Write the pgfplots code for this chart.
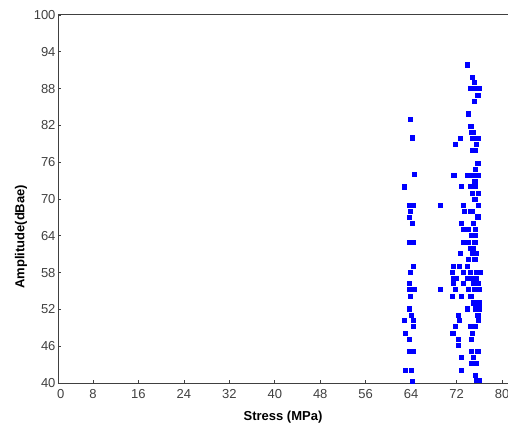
\documentclass[border=0pt]{standalone}
\usepackage{fontspec}
\setmainfont{Liberation Sans}
\usepackage{pgfplots}
\pgfplotsset{compat=1.18}
\begin{document}
\begin{tikzpicture}
\useasboundingbox (-58pt,-46pt) rectangle (450pt,383pt);
\begin{axis}[
  scale only axis,
  width=450pt, height=369pt,
  at={(0pt,0pt)}, anchor=south west,
  xmin=1.84, xmax=81.05,
  ymin=40, ymax=100.16,
  xtick={8,16,24,32,40,48,56,64,72,80},
  extra x ticks={2.31}, extra x tick labels={0},
  extra x tick style={major tick length=0pt},
  ytick={40,46,52,58,64,70,76,82,88,94,100},
  axis x line*=box, axis y line*=left,
  xtick pos=bottom, ytick pos=left,
  tick align=inside,
  major tick length=3pt,
  axis line style={draw=black!75, line width=0.8pt},
  tick style={draw=black!75, line width=0.6pt},
  /pgf/number format/assume math mode=true,
  tick label style={font=\fontsize{13}{15}\selectfont, text=black!75},
  xticklabel style={yshift=-3pt},
  yticklabel style={xshift=1pt},
  xlabel={Stress (MPa)},
  ylabel={Amplitude(dBae)},
  label style={font=\fontsize{13}{15}\selectfont\bfseries},
  xlabel style={at={(axis description cs:0.5,0)}, anchor=center, yshift=-34pt},
  ylabel style={at={(axis description cs:-0.082,0.396)}, anchor=center, rotate=0},
  clip=false,
]
\addplot[only marks, mark=square*, mark size=2.1pt, color=blue, mark options={draw=blue, fill=blue}] table {
x y
63.8 83
64.2 80
64.5 74
62.75 72
63.7 69
64.4 69
63.9 68
63.6 67
64.2 66
63.6 63
64.3 63
64.4 59.1
63.8 58.1
63.6 56.3
63.7 55.3
64.5 55.3
63.9 54.1
63.6 52.1
64.0 51.1
62.75 50.3
64.4 50.3
64.4 49.2
62.9 48.1
63.6 47.1
63.7 45.2
64.3 45.2
62.9 42.1
64.0 42.1
64.2 40.3
69.1 69.0
69.1 55.3
73.9 91.9
74.8 89.9
75.1 89.1
74.4 88.0
75.3 88.0
76.0 88.0
75.7 86.9
75.1 85.9
74.1 83.9
74.5 81.9
74.6 80.9
74.95 80.9
72.6 79.9
74.8 79.9
75.7 79.9
71.7 78.9
75.4 78.9
74.8 78.0
75.3 78.0
75.7 75.9
75.3 74.9
71.5 73.9
73.9 73.9
74.8 73.9
75.7 73.9
75.2 72.9
72.8 72.1
74.4 72.1
75.3 72.1
74.7 71.0
75.8 71.0
75.2 70.0
73.2 69.0
75.8 69.0
73.4 68.0
74.4 68.0
74.8 68.0
75.7 67.1
72.8 66.0
74.95 66.0
73.2 65.05
74.1 65.05
75.3 65.05
74.6 64.1
75.3 64.1
73.2 63.0
74.1 63.0
75.2 63.0
74.4 62.0
74.95 62.0
72.6 61.1
74.7 61.1
75.5 61.1
74.1 60.2
75.2 60.2
71.4 59.1
72.5 59.1
73.9 59.1
71.2 58.1
73.2 58.1
74.4 58.1
75.4 58.1
76.1 58.1
71.5 57.1
72.0 57.1
73.8 57.1
74.6 57.1
75.4 57.1
71.4 56.3
73.2 56.3
74.95 56.3
75.7 56.3
71.8 55.3
74.1 55.3
75.1 55.3
75.9 55.3
71.2 54.1
72.8 54.1
74.5 54.1
74.95 53.1
75.9 53.1
73.8 52.1
75.3 52.1
76.0 52.1
72.3 51.1
75.7 51.1
72.5 50.3
75.8 50.3
71.8 49.2
74.5 49.2
75.2 49.2
71.3 48.1
74.8 48.1
72.3 47.1
74.6 47.1
72.3 46.1
74.6 45.2
75.7 45.2
72.8 44.2
74.95 44.2
74.6 43.2
75.5 43.2
72.8 42.1
75.3 41.3
75.5 40.5
75.9 40.5
};
\end{axis}
\end{tikzpicture}
\end{document}
